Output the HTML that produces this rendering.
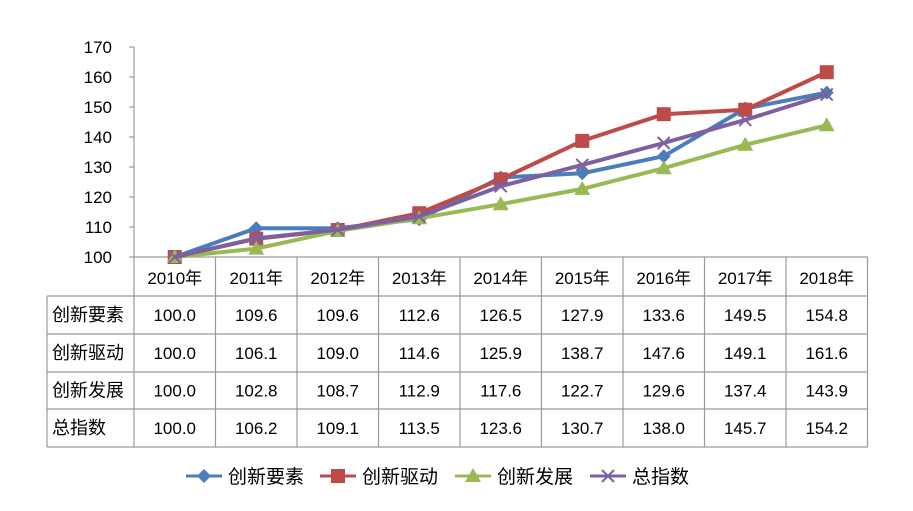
<!DOCTYPE html>
<html><head><meta charset="utf-8">
<style>
body{margin:0;background:#fff;font-family:"Liberation Sans","Noto Sans CJK SC",sans-serif;}
svg text{font-family:"Liberation Sans","Noto Sans CJK SC",sans-serif;fill:#000;}
</style></head>
<body>
<svg id="c" width="913" height="506" viewBox="0 0 913 506"></svg>
<script>
const categories=["2010年","2011年","2012年","2013年","2014年","2015年","2016年","2017年","2018年"];
const seriesNames=["创新要素","创新驱动","创新发展","总指数"];
const s0=[100.0,109.6,109.6,112.6,126.5,127.9,133.6,149.5,154.8];
const s1=[100.0,106.1,109.0,114.6,125.9,138.7,147.6,149.1,161.6];
const s2=[100.0,102.8,108.7,112.9,117.6,122.7,129.6,137.4,143.9];
const s3=[100.0,106.2,109.1,113.5,123.6,130.7,138.0,145.7,154.2];
const yTicks=[100,110,120,130,140,150,160,170];
const series=[s0,s1,s2,s3];
const colors=["#4a7ebb","#be4b48","#98b954","#7d60a0"];
const NS="http://www.w3.org/2000/svg";
const svg=document.getElementById('c');
const x0=134,cw=81.5,yBase=257,yTop=47;
const X=i=>x0+cw*(i+0.5);
const Y=v=>yBase-(v-100)/(170-100)*(yBase-yTop);
function mk(t,a,p){const e=document.createElementNS(NS,t);for(const k in a)e.setAttribute(k,a[k]);(p||svg).appendChild(e);return e;}
const ax=mk('g',{});


mk('line',{x1:x0,y1:yTop,x2:x0,y2:yBase,stroke:'#888','stroke-width':1},ax);
yTicks.forEach(v=>{
  mk('line',{x1:x0-5,y1:Y(v),x2:x0,y2:Y(v),stroke:'#888'},ax);
  const t=mk('text',{x:x0-22,y:Y(v)+6,'text-anchor':'end','font-size':17},ax);t.textContent=v;
  
  
});
const rows=[257,296,334,372,409,447];
const xr=x0+cw*9;
const tb=mk('g',{stroke:'#999','stroke-width':1.2});


mk('line',{x1:x0,y1:257,x2:xr,y2:257},tb);
for(let r=1;r<rows.length;r++) mk('line',{x1:47,y1:rows[r],x2:xr,y2:rows[r]},tb);
mk('line',{x1:47,y1:296,x2:47,y2:447},tb);
for(let i=0;i<=9;i++) mk('line',{x1:x0+cw*i,y1:257,x2:x0+cw*i,y2:447},tb);
categories.forEach((c,i)=>{const t=mk('text',{x:X(i),y:284,'text-anchor':'middle','font-size':17});t.textContent=c;
  
  });
series.forEach((s,r)=>{
  const ry=(rows[r+1]+rows[r+2])/2+6;
  const h=mk('text',{x:52,y:ry,'font-size':18});h.textContent=seriesNames[r];
  
  
  s.forEach((v,i)=>{const t=mk('text',{x:X(i),y:ry,'text-anchor':'middle','font-size':17});t.textContent=v.toFixed(1);
    
    });
});
function marker(k,x,y,g){
  const c=colors[k];
  if(k===0) mk('polygon',{points:`${x},${y-7} ${x+7},${y} ${x},${y+7} ${x-7},${y}`,fill:c},g);
  else if(k===1) mk('rect',{x:x-7,y:y-7,width:14,height:14,fill:c},g);
  else if(k===2) mk('polygon',{points:`${x},${y-8} ${x+8},${y+6} ${x-8},${y+6}`,fill:c},g);
  else {mk('path',{d:`M${x-6},${y-6}L${x+6},${y+6}M${x-6},${y+6}L${x+6},${y-6}`,stroke:c,'stroke-width':2},g);}
}
series.forEach((s,k)=>{
  const g=mk('g',{});
  
  
  mk('polyline',{points:s.map((v,i)=>X(i)+','+Y(v)).join(' '),fill:'none',stroke:colors[k],'stroke-width':4,'stroke-linejoin':'round'},g);
  s.forEach((v,i)=>marker(k,X(i),Y(v),g));
});
const lx=[186,320,455,590];
seriesNames.forEach((n,k)=>{
  const g=mk('g',{});
  
  
  mk('line',{x1:lx[k],y1:476,x2:lx[k]+36,y2:476,stroke:colors[k],'stroke-width':3},g);
  marker(k,lx[k]+18,476,g);
  const t=mk('text',{x:lx[k]+42,y:483,'font-size':19},g);t.textContent=n;
});
</script>
</body></html>
